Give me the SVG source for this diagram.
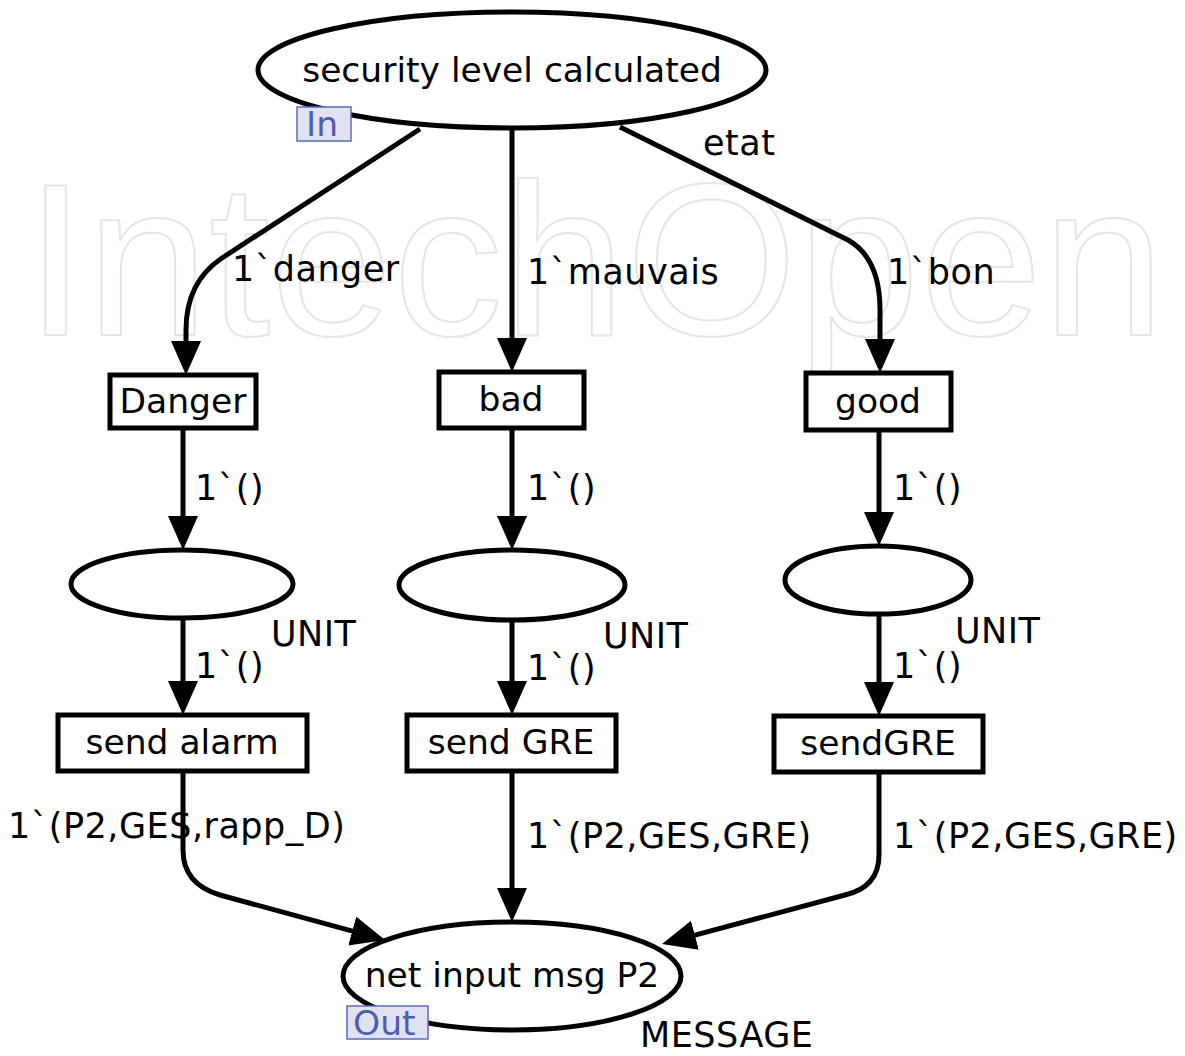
<svg xmlns="http://www.w3.org/2000/svg" width="1185" height="1056" viewBox="0 0 1185 1056">
<defs>
<style>
.t{font-family:"DejaVu Sans",Verdana,sans-serif;font-size:34.5px;fill:#000}
.l{font-family:"DejaVu Sans",Verdana,sans-serif;font-size:35px;letter-spacing:0.5px;fill:#000}
.c{text-anchor:middle}
.pl{fill:#fff;stroke:#000;stroke-width:5}
.tr{fill:#fff;stroke:#000;stroke-width:5}
.arc{fill:none;stroke:#000;stroke-width:5;marker-end:url(#ah)}
.port{fill:#e1e1f2;stroke:#5a6cbc;stroke-width:1.5}
.pt{font-family:"DejaVu Sans",Verdana,sans-serif;font-size:34.5px;fill:#4b5fb3}
.wm{font-family:"Liberation Sans",Arial,sans-serif;font-size:218px;fill:none;stroke:#e6e6e6;stroke-width:2}
</style>
<marker id="ah" viewBox="0 0 34 30" refX="24" refY="15" markerWidth="34" markerHeight="30" markerUnits="userSpaceOnUse" orient="auto">
<path d="M0,0 L34,15 L0,30 z" fill="#000"/>
</marker>
</defs>
<rect width="1185" height="1056" fill="#fff"/>
<text class="wm" x="25" y="335" textLength="1140" lengthAdjust="spacingAndGlyphs">IntechOpen</text>

<g id="connectors">
<path class="arc" d="M420,129 L222,258 Q186,282 186,330 L186,365"/>
<path class="arc" d="M512,129 L512,362"/>
<path class="arc" d="M620,127 L848,240 Q880,258 880,310 L880,363"/>
<path class="arc" d="M183,428 L183,540"/>
<path class="arc" d="M512,428 L512,540"/>
<path class="arc" d="M879,430 L879,536"/>
<path class="arc" d="M183,618 L183,705"/>
<path class="arc" d="M512,620 L512,705"/>
<path class="arc" d="M879,614 L879,706"/>
<path class="arc" d="M183,771 L183,850 Q183,884 220,895 L375.4,937.4"/>
<path class="arc" d="M512,771 L512,912"/>
<path class="arc" d="M879,772 L879,855 Q879,887 845,895 L671.7,941.4"/>
<text class="l" x="703" y="155">etat</text>
<text class="l" x="232" y="281">1`danger</text>
<text class="l" x="527" y="284">1`mauvais</text>
<text class="l" x="887" y="284">1`bon</text>
<text class="l" x="195" y="500">1`()</text>
<text class="l" x="527" y="500">1`()</text>
<text class="l" x="893" y="500">1`()</text>
<text class="l" x="195" y="678">1`()</text>
<text class="l" x="527" y="680">1`()</text>
<text class="l" x="893" y="678">1`()</text>
<text class="l" x="8" y="838">1`(P2,GES,rapp_D)</text>
<text class="l" x="527" y="848">1`(P2,GES,GRE)</text>
<text class="l" x="893" y="848">1`(P2,GES,GRE)</text>
</g>

<g id="security-level-calculated">
<ellipse class="pl" cx="512" cy="70" rx="254" ry="58"/>
<text class="t c" x="512" y="82">security level calculated</text>
<rect class="port" x="297" y="107" width="54" height="34"/>
<text class="pt" x="306" y="136">In</text>
</g>

<g id="Danger">
<rect class="tr" x="110" y="375" width="146" height="53"/>
<text class="t c" x="183" y="413">Danger</text>
</g>
<g id="bad">
<rect class="tr" x="439" y="372" width="145" height="56"/>
<text class="t c" x="511" y="411">bad</text>
</g>
<g id="good">
<rect class="tr" x="806" y="373" width="145" height="57"/>
<text class="t c" x="878" y="413">good</text>
</g>

<g id="place-danger">
<ellipse class="pl" cx="182" cy="584" rx="111" ry="34"/>
<text class="l" x="271" y="646">UNIT</text>
</g>
<g id="place-bad">
<ellipse class="pl" cx="512" cy="585" rx="113" ry="35"/>
<text class="l" x="603" y="648">UNIT</text>
</g>
<g id="place-good">
<ellipse class="pl" cx="878" cy="580" rx="93" ry="34"/>
<text class="l" x="955" y="643">UNIT</text>
</g>

<g id="send-alarm">
<rect class="tr" x="58" y="715" width="249" height="56"/>
<text class="t c" x="182" y="754">send alarm</text>
</g>
<g id="send-GRE">
<rect class="tr" x="407" y="715" width="209" height="56"/>
<text class="t c" x="511" y="754">send GRE</text>
</g>
<g id="sendGRE">
<rect class="tr" x="774" y="716" width="209" height="56"/>
<text class="t c" x="878" y="755">sendGRE</text>
</g>

<g id="net-input-msg-P2">
<ellipse class="pl" cx="512" cy="976" rx="169" ry="54"/>
<text class="t c" x="512" y="987">net input msg P2</text>
<rect class="port" x="347" y="1006" width="81" height="33"/>
<text class="pt" x="353" y="1035">Out</text>
<text class="l" x="640" y="1047">MESSAGE</text>
</g>
</svg>
